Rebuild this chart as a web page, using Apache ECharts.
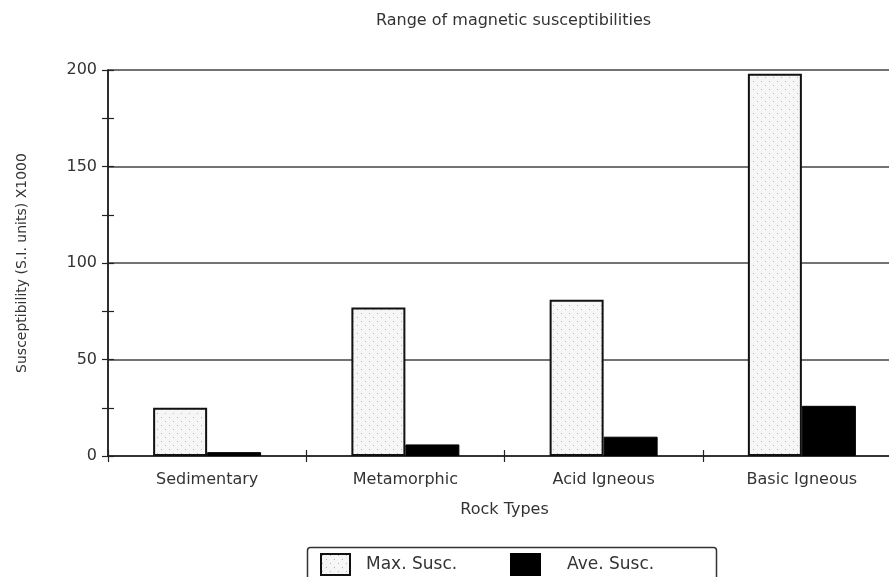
<!DOCTYPE html>
<html>
<head>
<meta charset="utf-8">
<script src="https://cdn.jsdelivr.net/npm/echarts@6/dist/echarts.min.js"></script>
<style>html,body{margin:0;padding:0;background:#fff;overflow:hidden}#c{width:920px;height:577px}</style>
</head>
<body>
<div id="c"></div>
<script>
var categories = ['Sedimentary', 'Metamorphic', 'Acid Igneous', 'Basic Igneous'];
var maxSusc = [25, 77, 81, 198];
var aveSusc = [2, 6, 10, 26];
var yTicks = [0, 50, 100, 150, 200];

var pat = document.createElement('canvas');
pat.width = 8; pat.height = 8;
var g = pat.getContext('2d');
g.fillStyle = '#f6f6f6'; g.fillRect(0, 0, 8, 8);
g.fillStyle = '#b8b8b8';
g.fillRect(1, 1, 1, 1); g.fillRect(5, 5, 1, 1);
var patternFill = { image: pat, repeat: 'repeat' };

var FONT = 'DejaVu Sans';
var TXT = '#333';
var LINE = '#222';

var chart = echarts.init(document.getElementById('c'), null, { renderer: 'canvas' });
var axisCommon = {
  type: 'value', min: yTicks[0], max: yTicks[yTicks.length - 1], interval: 50,
  axisLine: { show: true, lineStyle: { color: LINE, width: 1.5 } },
  minorTick: { show: true, splitNumber: 2, length: 6, lineStyle: { color: LINE, width: 1.2 } },
  axisTick: { show: true, length: 6, lineStyle: { color: LINE, width: 1.2 } }
};
chart.setOption({
  animation: false,
  textStyle: { fontFamily: FONT },
  title: {
    text: 'Range of magnetic susceptibilities',
    left: 371, top: 8,
    textStyle: { fontFamily: FONT, fontSize: 16, fontWeight: 'normal', color: TXT }
  },
  grid: { left: 108, top: 70, width: 793, height: 386 },
  legend: [
    { data: ['Max. Susc.'], left: 315, top: 548, itemWidth: 29, itemHeight: 21, icon: 'rect',
      textStyle: { fontFamily: FONT, fontSize: 17, color: TXT, padding: [0, 0, 0, 11] } },
    { data: ['Ave. Susc.'], left: 505, top: 548, itemWidth: 29, itemHeight: 21, icon: 'rect',
      textStyle: { fontFamily: FONT, fontSize: 17, color: TXT, padding: [0, 0, 0, 22] } }
  ],
  graphic: [{
    type: 'rect', left: 305, top: 545, silent: true,
    shape: { width: 409, height: 50, r: 3 },
    style: { fill: 'none', stroke: '#333', lineWidth: 1.5 }
  }],
  xAxis: [{
    type: 'category', data: categories,
    name: 'Rock Types', nameLocation: 'middle', nameGap: 46,
    nameTextStyle: { fontFamily: FONT, fontSize: 16, color: TXT },
    axisLine: { show: true, lineStyle: { color: LINE, width: 1.5 } },
    axisTick: { show: true, length: 6, lineStyle: { color: LINE, width: 1.2 } },
    axisLabel: { fontFamily: FONT, fontSize: 16, color: TXT, margin: 16 }
  }, {
    type: 'category', data: categories, position: 'bottom',
    axisLine: { show: false },
    axisTick: { show: true, inside: true, length: 6, lineStyle: { color: LINE, width: 1.2 } },
    axisLabel: { show: false }
  }],
  yAxis: [Object.assign({}, axisCommon, {
    name: 'Susceptibility (S.I. units) X1000', nameLocation: 'middle', nameGap: 79,
    nameTextStyle: { fontFamily: FONT, fontSize: 14, color: TXT },
    splitLine: { show: true, lineStyle: { color: '#444', width: 1.5 } },
    axisLabel: { fontFamily: FONT, fontSize: 16, color: TXT, margin: 11 }
  }), Object.assign({}, axisCommon, {
    position: 'left',
    axisTick: { show: true, inside: true, length: 6, lineStyle: { color: LINE, width: 1.2 } },
    axisLabel: { show: false },
    splitLine: { show: false }
  })],
  series: [{
    name: 'Max. Susc.', type: 'bar', data: maxSusc,
    barWidth: 54, barGap: '0%',
    itemStyle: { color: patternFill, borderColor: '#111', borderWidth: 2 }
  }, {
    name: 'Ave. Susc.', type: 'bar', data: aveSusc,
    barWidth: 54, barGap: '0%',
    itemStyle: { color: '#000', borderColor: '#000', borderWidth: 1 }
  }]
});
</script>
</body>
</html>
